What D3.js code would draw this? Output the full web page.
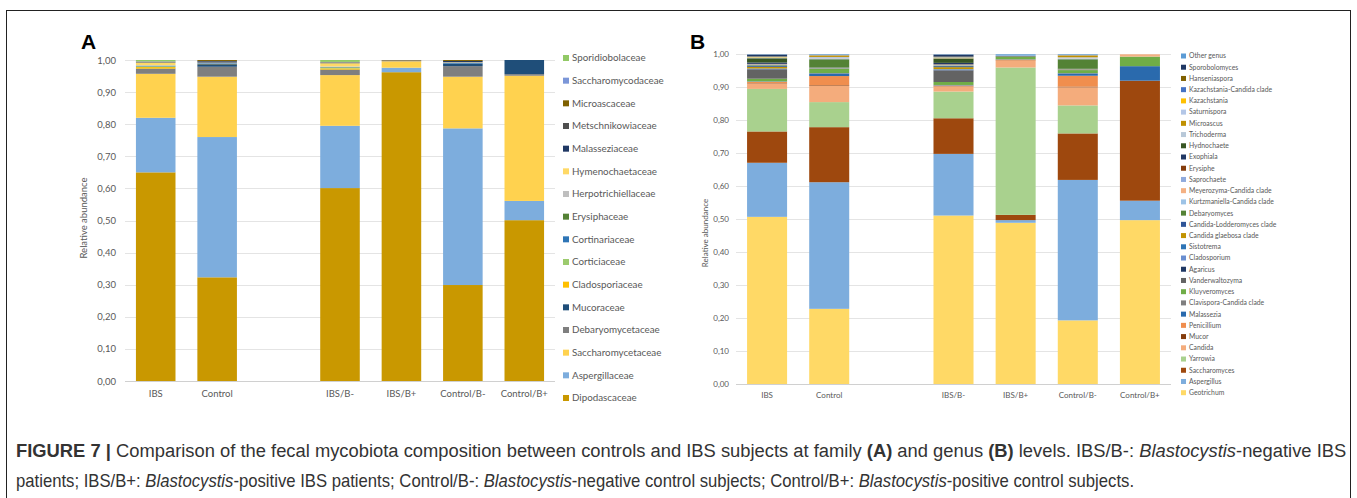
<!DOCTYPE html>
<html><head><meta charset="utf-8">
<script src="https://cdn.jsdelivr.net/npm/d3@7"></script>
<style>body{margin:0;background:#fff} svg{display:block}</style>
</head><body><svg id="c" width="1357" height="498"></svg>
<script>
// ---------- DATA ----------
const groups = ["IBS","Control","IBS/B-","IBS/B+","Control/B-","Control/B+"];
const xSlots = ["IBS","Control","","IBS/B-","IBS/B+","Control/B-","Control/B+"];
const yTicks = [0,0.1,0.2,0.3,0.4,0.5,0.6,0.7,0.8,0.9,1.0];

// Panel A: families, bottom -> top of stack
const families = ["Dipodascaceae","Aspergillaceae","Saccharomycetaceae","Debaryomycetaceae","Mucoraceae",
  "Cladosporiaceae","Corticiaceae","Cortinariaceae","Erysiphaceae","Herpotrichiellaceae","Hymenochaetaceae",
  "Malasseziaceae","Metschnikowiaceae","Microascaceae","Saccharomycodaceae","Sporidiobolaceae"];
const familyColors = ["#C99800","#7DADDD","#FFD24F","#7F7F7F","#1F4E79",
  "#FFC000","#9CCB6E","#2E75B6","#548235","#BFBFBF","#FFD966",
  "#203864","#4F4F4F","#7F6000","#7B96D8","#92C966"];
// values per family, in the order of `groups`
const dipodascaceae       = [0.650,0.323,0.601,0.962,0.299,0.501];
const aspergillaceae      = [0.170,0.437,0.194,0.014,0.488,0.060];
const saccharomycetaceae  = [0.137,0.188,0.158,0.020,0.161,0.390];
const debaryomycetaceae   = [0.015,0.031,0.016,0.002,0.033,0.005];
const mucoraceae          = [0.001,0.008,0.001,0.000,0.008,0.044];
const cladosporiaceae     = [0.005,0.001,0.004,0.000,0.000,0.000];
const corticiaceae        = [0.002,0.000,0.002,0.000,0.000,0.000];
const cortinariaceae      = [0.001,0.002,0.001,0.000,0.002,0.000];
const erysiphaceae        = [0.001,0.000,0.001,0.000,0.000,0.000];
const herpotrichiellaceae = [0.002,0.001,0.002,0.000,0.001,0.000];
const hymenochaetaceae    = [0.008,0.001,0.010,0.000,0.001,0.000];
const malasseziaceae      = [0.001,0.004,0.001,0.000,0.004,0.000];
const metschnikowiaceae   = [0.001,0.001,0.001,0.001,0.000,0.000];
const microascaceae       = [0.001,0.003,0.001,0.001,0.003,0.000];
const saccharomycodaceae  = [0.001,0.000,0.001,0.000,0.000,0.000];
const sporidiobolaceae    = [0.004,0.000,0.006,0.000,0.000,0.000];
const familyValues = [dipodascaceae,aspergillaceae,saccharomycetaceae,debaryomycetaceae,mucoraceae,
  cladosporiaceae,corticiaceae,cortinariaceae,erysiphaceae,herpotrichiellaceae,hymenochaetaceae,
  malasseziaceae,metschnikowiaceae,microascaceae,saccharomycodaceae,sporidiobolaceae];

// Panel B: genera, bottom -> top of stack
const genera = ["Geotrichum","Aspergillus","Saccharomyces","Yarrowia","Candida","Mucor","Penicillium",
  "Malassezia","Clavispora-Candida clade","Kluyveromyces","Vanderwaltozyma","Agaricus","Cladosporium",
  "Sistotrema","Candida glaebosa clade","Candida-Lodderomyces clade","Debaryomyces",
  "Kurtzmaniella-Candida clade","Meyerozyma-Candida clade","Saprochaete","Erysiphe","Exophiala",
  "Hydnochaete","Trichoderma","Microascus","Saturnispora","Kazachstania","Kazachstania-Candida clade",
  "Hanseniaspora","Sporobolomyces","Other genus"];
const genusColors = ["#FFD966","#7DADDD","#9E480E","#A9D18E","#F4AC7C","#843C0C","#F08E4E",
  "#2A6AAD","#7F7F7F","#70AD47","#636363","#1F3864","#698ED0",
  "#2E75B6","#C29300","#2F5597","#548235",
  "#9DC3E6","#F4B183","#8FAADC","#843C0C","#203864",
  "#375623","#B8C8D8","#BF9000","#B4C7E7","#FFC000","#4472C4",
  "#7F6000","#1F3864","#5B9BD5"];
const geotrichum      = [0.507,0.228,0.511,0.489,0.193,0.497];
const aspergillus     = [0.164,0.384,0.187,0.008,0.426,0.059];
const saccharomyces   = [0.095,0.167,0.108,0.016,0.141,0.364];
const yarrowia        = [0.129,0.076,0.081,0.447,0.085,0.000];
const candida         = [0.017,0.049,0.015,0.020,0.055,0.000];
const mucor           = [0.001,0.002,0.001,0.001,0.002,0.000];
const penicillium     = [0.003,0.028,0.002,0.003,0.033,0.000];
const malassezia      = [0.001,0.008,0.001,0.001,0.007,0.044];
const clavispora      = [0.001,0.001,0.001,0.000,0.001,0.000];
const kluyveromyces   = [0.008,0.013,0.009,0.008,0.009,0.029];
const vanderwaltozyma = [0.028,0.001,0.035,0.002,0.001,0.000];
const agaricus        = [0.001,0.000,0.001,0.000,0.000,0.000];
const cladosporium    = [0.001,0.001,0.002,0.000,0.001,0.000];
const sistotrema      = [0.001,0.000,0.001,0.000,0.000,0.000];
const candidaGlaebosa = [0.005,0.001,0.006,0.000,0.001,0.000];
const candidaLodder   = [0.003,0.001,0.003,0.000,0.001,0.000];
const debaryomyces    = [0.002,0.025,0.002,0.000,0.029,0.000];
const kurtzmaniella   = [0.001,0.001,0.001,0.000,0.001,0.000];
const meyerozyma      = [0.001,0.001,0.001,0.000,0.001,0.007];
const saprochaete     = [0.001,0.001,0.001,0.000,0.000,0.000];
const erysiphe        = [0.001,0.000,0.001,0.000,0.000,0.000];
const exophiala       = [0.004,0.000,0.004,0.000,0.000,0.000];
const hydnochaete     = [0.013,0.000,0.013,0.000,0.000,0.000];
const trichoderma     = [0.001,0.004,0.001,0.001,0.004,0.000];
const microascus      = [0.001,0.004,0.001,0.000,0.005,0.000];
const saturnispora    = [0.001,0.001,0.001,0.000,0.001,0.000];
const kazachstania    = [0.001,0.000,0.001,0.000,0.000,0.000];
const kazachstaniaC   = [0.001,0.000,0.001,0.000,0.000,0.000];
const hanseniaspora   = [0.001,0.001,0.001,0.000,0.001,0.000];
const sporobolomyces  = [0.005,0.000,0.006,0.000,0.000,0.000];
const otherGenus      = [0.001,0.002,0.001,0.004,0.002,0.000];
const genusValues = [geotrichum,aspergillus,saccharomyces,yarrowia,candida,mucor,penicillium,
  malassezia,clavispora,kluyveromyces,vanderwaltozyma,agaricus,cladosporium,sistotrema,candidaGlaebosa,
  candidaLodder,debaryomyces,kurtzmaniella,meyerozyma,saprochaete,erysiphe,exophiala,hydnochaete,
  trichoderma,microascus,saturnispora,kazachstania,kazachstaniaC,hanseniaspora,sporobolomyces,otherGenus];

// ---------- DRAW ----------
const svg = d3.select("#c");
const FONT = "Lato, 'Open Sans', sans-serif";
const TXT = "#595959";
const fmt = d => d3.format(".2f")(d).replace(".", ",");

// figure frame
svg.append("rect").attr("x",6.5).attr("y",10.5).attr("width",1344).attr("height",520)
  .attr("fill","none").attr("stroke","#222").attr("stroke-width",1);

function panel(cfg){
  const g = svg.append("g");
  const x = d3.scaleBand().domain(xSlots).range([cfg.x0,cfg.x1]).paddingInner(0.356).paddingOuter(0.178);
  const y = d3.scaleLinear().domain([0,1]).range([cfg.yb,cfg.yt]);
  g.selectAll(".grid").data(yTicks).join("line")
    .attr("x1",cfg.x0).attr("x2",cfg.x1)
    .attr("y1",d=>Math.round(y(d))+0.5).attr("y2",d=>Math.round(y(d))+0.5)
    .attr("stroke",d=>d===0?"#D0D0D0":"#E4E4E4").attr("stroke-width",1);
  const ya = d3.axisLeft(y).tickValues(yTicks).tickFormat(fmt).tickSize(0).tickPadding(cfg.tickPad);
  const yg = g.append("g").attr("transform",`translate(${cfg.x0},0)`).call(ya);
  yg.select(".domain").remove();
  yg.selectAll("text").attr("fill",TXT).style("font-family",FONT).style("font-size",cfg.fs+"px");
  const xa = d3.axisBottom(x).tickSize(0).tickPadding(cfg.xPad);
  const xg = g.append("g").attr("transform",`translate(0,${cfg.yb})`).call(xa);
  xg.select(".domain").remove();
  xg.selectAll("text").attr("fill",TXT).style("font-family",FONT).style("font-size",cfg.fs+"px");
  const rows = groups.map((grp,i)=>{const r={group:grp}; cfg.names.forEach((n,j)=>r[n]=cfg.values[j][i]); return r;});
  const series = d3.stack().keys(cfg.names)(rows);
  const col = d3.scaleOrdinal().domain(cfg.names).range(cfg.colors);
  g.selectAll(".s").data(series).join("g").attr("fill",d=>col(d.key))
    .selectAll("rect").data(d=>d.filter(p=>p[1]-p[0]>0)).join("rect")
    .attr("x",d=>x(d.data.group)).attr("width",x.bandwidth())
    .attr("y",d=>y(d[1])).attr("height",d=>y(d[0])-y(d[1]));
  g.append("text").attr("transform",`translate(${cfg.titleX},${cfg.titleY}) rotate(-90)`)
    .attr("text-anchor","middle").attr("fill",TXT).style("font-family",FONT).style("font-size",cfg.fs+"px")
    .text("Relative abundance");
  g.append("text").attr("x",cfg.letterX).attr("y",49).attr("fill","#000")
    .style("font-family","'Liberation Sans', Arial, sans-serif").style("font-weight","bold").style("font-size","21px")
    .text(cfg.letter);
  const leg = cfg.names.slice().reverse();
  const ly = d3.scalePoint().domain(leg).range([cfg.legY0,cfg.legY1]);
  const lg = g.append("g");
  lg.selectAll("rect").data(leg).join("rect")
    .attr("x",cfg.legX).attr("y",d=>ly(d)-cfg.ms/2).attr("width",cfg.ms).attr("height",cfg.ms)
    .attr("fill",d=>col(d));
  lg.selectAll("text").data(leg).join("text")
    .attr("x",cfg.legX+cfg.ms+3).attr("y",d=>ly(d)).attr("dy","0.35em")
    .attr("fill",TXT).style("font-family",FONT).style("font-size",cfg.lfs+"px").text(d=>d);
}

panel({x0:125,x1:555,yb:381,yt:60,fs:9.5,tickPad:9,xPad:9,names:families,values:familyValues,colors:familyColors,
  titleX:87,titleY:218,letter:"A",letterX:81,legX:563,legY0:58,legY1:398,ms:6,lfs:9.8});
panel({x0:736,x1:1171,yb:384,yt:54.3,fs:8,tickPad:7,xPad:8,names:genera,values:genusValues,colors:genusColors,
  titleX:708,titleY:233,letter:"B",letterX:690,legX:1181,legY0:56,legY1:392.7,ms:5,lfs:6.8});

// ---------- CAPTION ----------
const capFont = "'Liberation Sans Narrow','Arial Narrow','Liberation Sans',Arial,sans-serif";
const lines = [
  {y:457, w:1331, parts:[["FIGURE 7 | ","b"],["Comparison of the fecal mycobiota composition between controls and IBS subjects at family ",""],["(A)","b"],[" and genus ",""],["(B)","b"],[" levels. IBS/B-: ",""],["Blastocystis","i"],["-negative IBS",""]]},
  {y:487, w:1119, parts:[["patients; IBS/B+: ",""],["Blastocystis","i"],["-positive IBS patients; Control/B-: ",""],["Blastocystis","i"],["-negative control subjects; Control/B+: ",""],["Blastocystis","i"],["-positive control subjects.",""]]}
];
lines.forEach(L=>{
  const t = svg.append("text").attr("x",0).attr("y",0).attr("fill","#333")
    .style("font-family",capFont).style("font-size","18px");
  L.parts.forEach(([s,st])=>{
    const ts = t.append("tspan").text(s);
    if(st==="b") ts.style("font-weight","bold");
    if(st==="i") ts.style("font-style","italic");
  });
  const w = t.node().getComputedTextLength();
  t.attr("transform",`translate(16,${L.y}) scale(${L.w/w},1)`);
});
</script></body></html>
